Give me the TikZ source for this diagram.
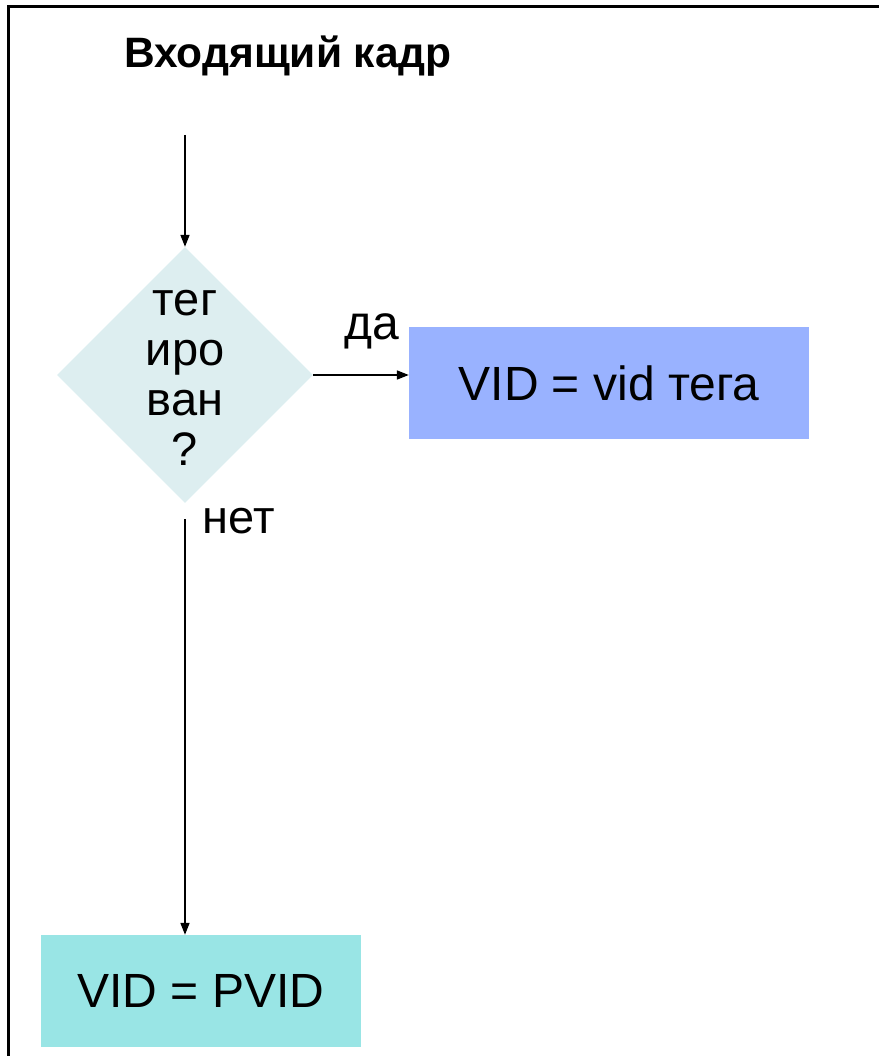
\documentclass[tikz,border=0pt]{standalone}
\usepackage{fontspec}
\setmainfont{Liberation Sans}
\usetikzlibrary{shapes.geometric,arrows.meta}
\definecolor{decisionfill}{RGB}{221,238,240}
\definecolor{tagfill}{RGB}{153,178,255}
\definecolor{pvidfill}{RGB}{153,229,229}
\tikzset{
  flow/.style={line width=1.6pt,-{Triangle[length=12pt,width=9pt]}},
  actionbox/.style={rectangle,inner sep=0pt,font=\fontsize{48}{52}\selectfont},
  lbl/.style={inner sep=0pt,font=\fontsize{47}{50}\selectfont},
}
\begin{document}
\begin{tikzpicture}[x=1pt,y=-1pt]
\useasboundingbox (0,0) rectangle (879,1056);
% frame edges
\draw[line width=2.2pt] (8.5,1056) -- (8.5,6.5) -- (879,6.5);
% heading
\node[inner sep=0pt,font=\fontsize{42.5}{48}\selectfont\bfseries] (title) at (288,56) {Входящий кадр};
\coordinate (entry) at (185,135);
% decision
\node[diamond,fill=decisionfill,minimum width=256pt,minimum height=256pt,inner sep=0pt] (q) at (185,375) {};
\node[align=center,inner sep=0pt,font=\fontsize{47}{50}\selectfont] (qtext) at (185,378) {тег\\иро\\ван\\?};
% outcomes
\node[actionbox,fill=tagfill,minimum width=400pt,minimum height=112pt] (yes) at (609,383) {VID = vid тега};
\node[actionbox,fill=pvidfill,minimum width=320pt,minimum height=112pt] (no) at (201,991) {VID = PVID};
% connectors
\draw[flow] (entry) -- (q.north);
\draw[flow] (q.east) -- (q.east -| yes.west);
\draw[flow] ([yshift=-16pt]q.south) -- (q.south |- no.north);
% branch labels
\node[lbl,font=\fontsize{48}{50}\selectfont] (yeslbl) at (372,331) {да};
\node[lbl] (nolbl) at (239,521) {нет};
\end{tikzpicture}
\end{document}
